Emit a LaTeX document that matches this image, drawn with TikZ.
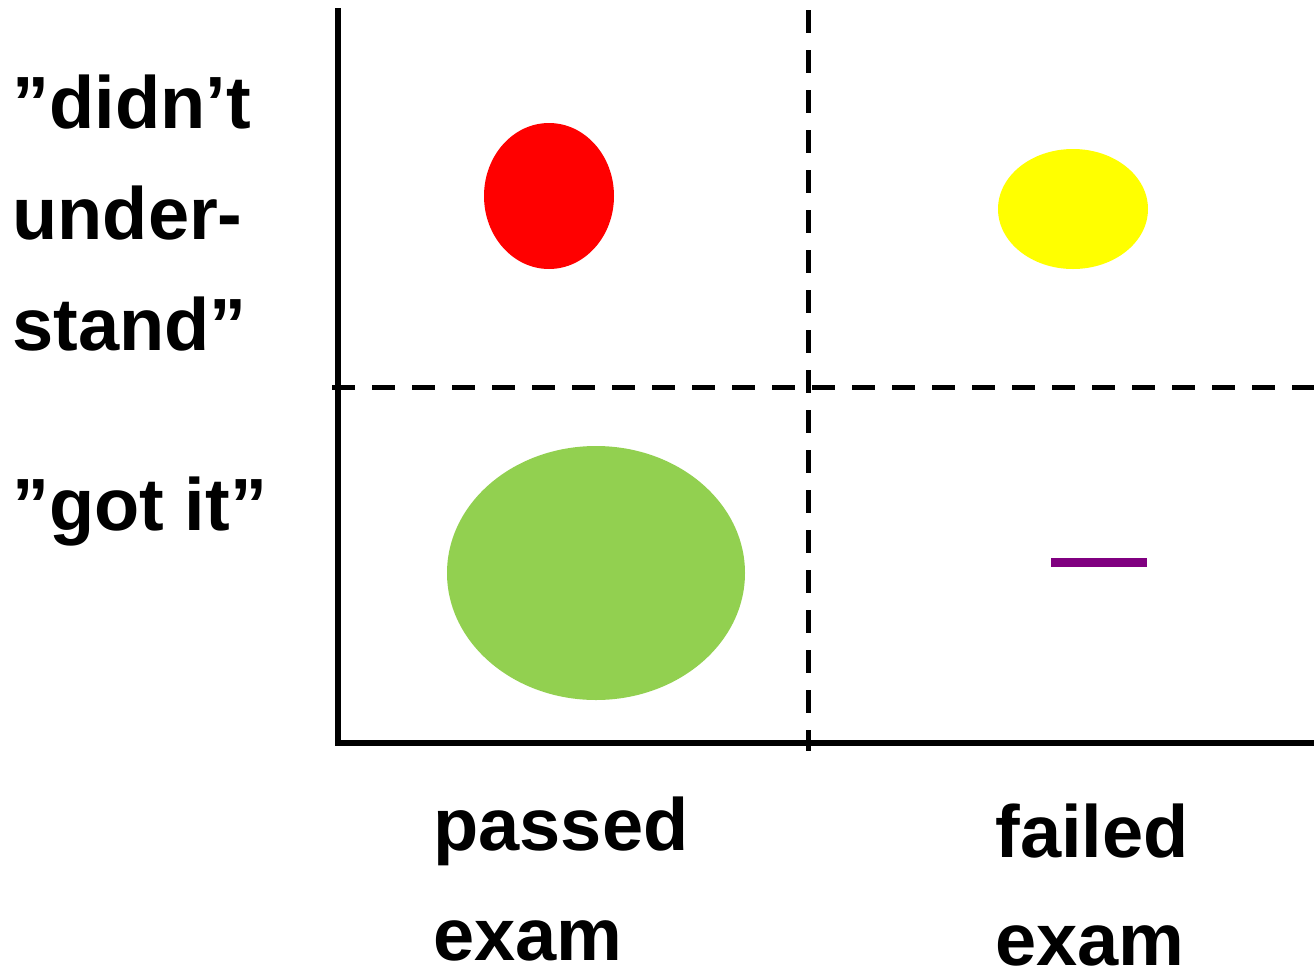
\documentclass[tikz,border=0pt]{standalone}
\usepackage{fontspec}
\setmainfont{Liberation Sans}
\definecolor{cgreen}{HTML}{92D050}
\definecolor{cyellow}{HTML}{FFFF00}
\definecolor{cred}{HTML}{FF0000}
\definecolor{cpurple}{HTML}{800080}
\begin{document}
\begin{tikzpicture}[x=0.5pt,y=-0.5pt,
  lbl/.style={font=\fontsize{37}{56}\selectfont\bfseries, inner sep=0pt, anchor=base west},
  axisline/.style={line width=3pt},
  gridline/.style={line width=2.5pt, dash pattern=on 11.5pt off 8.5pt}]
\useasboundingbox (0,0) rectangle (1314,970);
% blobs
\fill[cred] (549,196) ellipse [x radius=65, y radius=73];
\fill[cyellow] (1073,209) ellipse [x radius=75, y radius=60];
\fill[cgreen] (596,573) ellipse [x radius=149, y radius=127];
\coordinate (pl) at (1051,562);
\coordinate (pr) at (1147,562);
\draw[cpurple, line width=4.5pt] (pl) -- (pr);
% axes
\coordinate (top) at (338,8);
\coordinate (origin) at (338,743);
\coordinate (right) at (1314,743);
\draw[axisline] (top) -- (origin) -- (right);
% dashed dividers
\coordinate (vt) at (808,10);
\coordinate (vb) at (808,751);
\coordinate (hl) at (332,387);
\coordinate (hr) at (1314,387);
\draw[gridline] (vt) -- (vb);
\draw[gridline] (hl) -- (hr);
% labels
\node[lbl] (l1) at (12,128) {”didn’t};
\node[lbl] (l2) at (12,239) {under-};
\node[lbl] (l3) at (12,350) {stand”};
\node[lbl] (l4) at (12,530) {”got it”};
\node[lbl] (b1) at (433,850) {passed};
\node[lbl] (b2) at (433,960) {exam};
\node[lbl] (b3) at (995,857) {failed};
\node[lbl] (b4) at (995,965) {exam};
\end{tikzpicture}
\end{document}
